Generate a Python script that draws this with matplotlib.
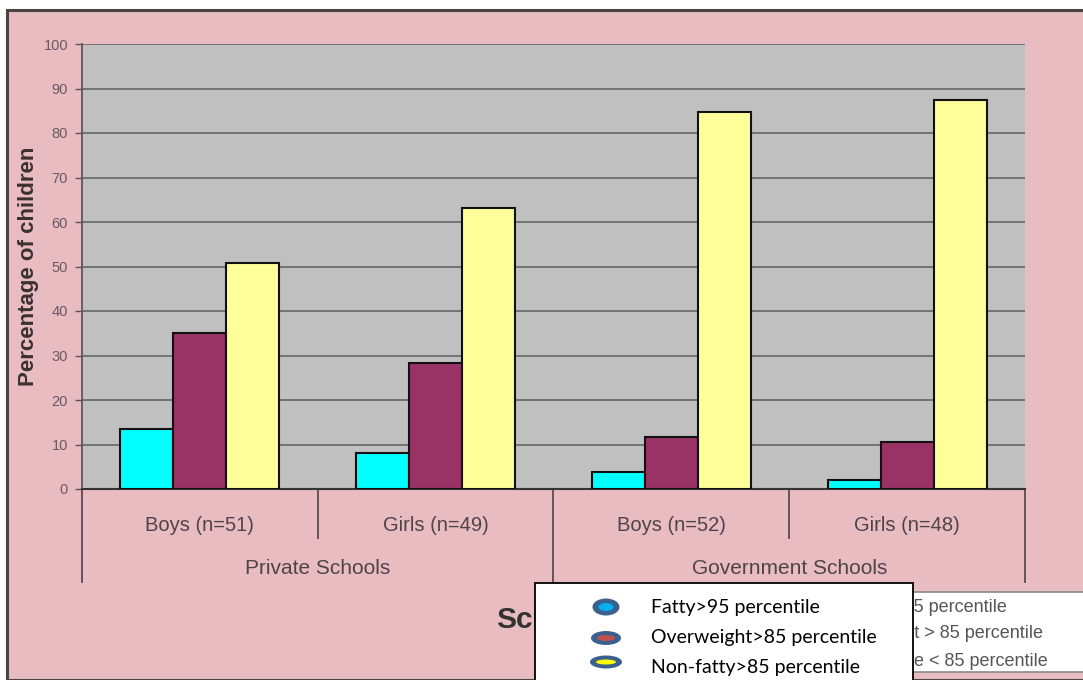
import numpy as np
import matplotlib
matplotlib.use('Agg')
import matplotlib.pyplot as plt
from matplotlib.patches import Rectangle, Ellipse
from matplotlib.lines import Line2D
import matplotlib.transforms as mtransforms

plt.rcParams['font.family'] = ['Liberation Sans', 'DejaVu Sans']

# bar data (percentage of children)
categories = ['Boys (n=51)', 'Girls (n=49)', 'Boys (n=52)', 'Girls (n=48)']
groups = ['Private Schools', 'Government Schools']
fatty = [13.5, 8.0, 3.8, 2.0]
overweight = [35.1, 28.3, 11.7, 10.6]
nonfatty = [50.7, 63.1, 84.7, 87.4]
yticks = list(range(0, 101, 10))

old_legend = ['Obese > 95 percentile', 'Overweight > 85 percentile', 'Non-obese < 85 percentile']
old_hidden = ['Obese > 9', 'Overweigh', 'Non-obes']   # part of each entry under the new box
new_legend = ['Fatty>95 percentile', 'Overweight>85 percentile', 'Non-fatty>85 percentile']

W, H = 1083, 680
fig = plt.figure(figsize=(W / 100, H / 100), dpi=100)
fig.patch.set_facecolor('white')

def fx(px):
    return px / W

def fy(py):
    return 1 - py / H

# pink chart area with dark frame
fig.add_artist(Rectangle((fx(7), 0), 1.0, fy(10), transform=fig.transFigure,
                         facecolor='#e8bcc0', edgecolor='#4a4444', linewidth=2.2, zorder=0))

ax = fig.add_axes([fx(82), fy(489), fx(1025) - fx(82), fy(44) - fy(489)])
ax.set_facecolor('#c0c0c0')

x = np.arange(len(categories))
bw = 0.225
ax.bar(x - bw, fatty, bw, color='#00ffff', edgecolor='#111111', linewidth=1.5, zorder=3)
ax.bar(x, overweight, bw, color='#993366', edgecolor='#111111', linewidth=1.5, zorder=3)
ax.bar(x + bw, nonfatty, bw, color='#ffff99', edgecolor='#111111', linewidth=1.5, zorder=3)

ax.set_xlim(-0.5, 3.5)
ax.set_ylim(0, 100)
ax.set_yticks(yticks)
ax.yaxis.grid(True, color='#6e6e6e', linewidth=1.3)
ax.set_axisbelow(True)
ax.set_xticks([])
ax.tick_params(axis='y', length=5, width=1, color='#555555', labelsize=10.5, labelcolor='#6a5a5e', pad=5)
for s in ['top', 'right']:
    ax.spines[s].set_visible(False)
ax.spines['left'].set_color('#5a5a5a')
ax.spines['left'].set_linewidth(1.3)
ax.spines['bottom'].set_color('#333333')
ax.spines['bottom'].set_linewidth(1.5)

ax.set_ylabel('Percentage of children', fontsize=16, fontweight='bold', color='#3a3034')
ax.yaxis.set_label_coords(-0.046, 0.5)

# category axis: labels and separators below the plot
trans = mtransforms.blended_transform_factory(ax.transData, ax.transAxes)
for i, c in enumerate(categories):
    ax.text(i, -0.081, c, transform=trans, ha='center', va='center',
            fontsize=14.5, color='#4e4448')
for j, g in enumerate(groups):
    ax.text(2 * j + 0.5, -0.178, g, transform=trans, ha='center', va='center',
            fontsize=15, color='#4e4448')
for xs in [-0.5, 0.5, 1.5, 2.5, 3.5]:
    long_line = xs in (-0.5, 1.5, 3.5)
    y_end = -0.209 if long_line else -0.11
    ax.add_line(Line2D([xs, xs], [0, y_end], transform=trans, color='#5a4a50',
                       linewidth=1.3, clip_on=False))

# axis title, mostly covered by the legend box
fig.text(fx(496), fy(620), 'Schools', ha='left', va='center', fontsize=21.5,
         fontweight='bold', color='#333333', zorder=5)

# original legend box behind, its entries start under the new box
fig.add_artist(Rectangle((fx(870), fy(672)), fx(240), fy(592) - fy(672), transform=fig.transFigure,
                         facecolor='white', edgecolor='#8a8a8a', linewidth=1.2, zorder=6))
renderer = fig.canvas.get_renderer()
for txt, hidden, ye in zip(old_legend, old_hidden, [607, 634, 661]):
    probe = fig.text(0, 0, hidden, fontsize=13)
    hw = probe.get_window_extent(renderer).width
    probe.remove()
    fig.text(fx(914 - hw), fy(ye), txt, ha='left', va='center', fontsize=13,
             color='#555555', zorder=7)

# overlaid legend box
fig.add_artist(Rectangle((fx(535), fy(690)), fx(913) - fx(535), fy(583) - fy(690),
                         transform=fig.transFigure, facecolor='white', edgecolor='black',
                         linewidth=1.3, zorder=8))
marker_fill = ['#00b0f0', '#c0504d', '#ffff00']
marker_outer = [(27, 17), (30, 14), (32, 13)]
marker_inner = [(15, 8), (18, 6), (20, 5)]
marker_y = [607, 638, 662]
for fc, (w, h), (wi, hi), my in zip(marker_fill, marker_outer, marker_inner, marker_y):
    fig.add_artist(Ellipse((fx(606), fy(my)), fx(w), h / H, transform=fig.transFigure,
                           facecolor='#3b5f8e', edgecolor='none', zorder=9))
    fig.add_artist(Ellipse((fx(606), fy(my)), fx(wi), hi / H, transform=fig.transFigure,
                           facecolor=fc, edgecolor='none', zorder=10))
for txt, ty in zip(new_legend, [608, 638, 667]):
    fig.text(fx(651), fy(ty), txt, ha='left', va='center', fontsize=14,
             family='Lato', color='black', zorder=10)

fig.savefig('out.png', dpi=100)
